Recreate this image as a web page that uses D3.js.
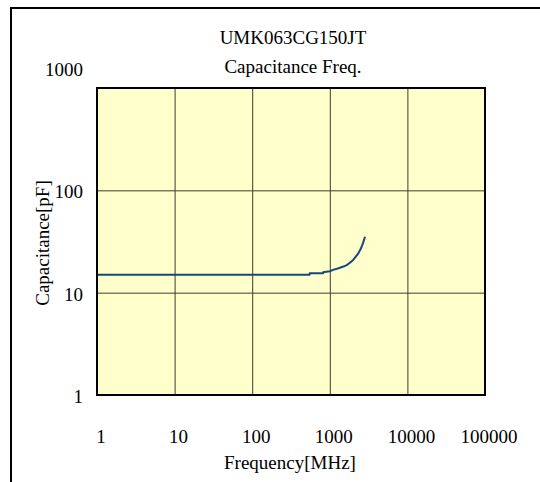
<!DOCTYPE html>
<html>
<head>
<meta charset="utf-8">
<script src="https://cdn.jsdelivr.net/npm/d3@7"></script>
<style>
  html, body { margin: 0; padding: 0; background: #fff; }
  svg { display: block; }
  text { font-family: "Liberation Serif", "Times New Roman", serif; fill: #000; }
</style>
</head>
<body>
<svg id="chart" width="540" height="482"></svg>
<script>
// ---- data ----
const titleLines = ["UMK063CG150JT", "Capacitance Freq."];
const xLabel = "Frequency[MHz]";
const yLabel = "Capacitance[pF]";
const xTicks = [1, 10, 100, 1000, 10000, 100000];
const yTicks = [1, 10, 100, 1000];
const freqMHz = [1, 2, 5, 10, 20, 50, 100, 200, 400, 550, 551, 820, 821, 1000, 1100, 1200, 1350, 1500, 1650, 1800, 2000, 2150, 2330, 2450, 2575, 2700, 2840];
const capPF   = [15, 15, 15, 15, 15, 15, 15, 15, 15, 15, 15.5, 15.5, 15.8, 16.2, 16.7, 17.0, 17.5, 18.0, 18.6, 19.5, 20.9, 22.4, 24.2, 26.0, 28.1, 31.0, 35.2];

// ---- layout ----
const svg = d3.select("#chart");
const plot = { left: 97, top: 88, right: 485, bottom: 395 };

const x = d3.scaleLog().domain([1, 100000]).range([plot.left, plot.right]);
const y = d3.scaleLog().domain([1, 1000]).range([plot.bottom, plot.top]);

// outer frame (clipped at right/bottom as in the reference)
svg.append("rect")
  .attr("x", 11).attr("y", 8).attr("width", 700).attr("height", 700)
  .attr("fill", "none").attr("stroke", "#000").attr("stroke-width", 2);

// plot background
svg.append("rect")
  .attr("x", plot.left).attr("y", plot.top)
  .attr("width", plot.right - plot.left).attr("height", plot.bottom - plot.top)
  .attr("fill", "#ffffcc");

// gridlines
const gx = svg.append("g")
  .attr("transform", `translate(0,${plot.bottom})`)
  .call(d3.axisBottom(x).tickValues(xTicks).tickSize(-(plot.bottom - plot.top)).tickFormat(""));
gx.select(".domain").remove();
gx.selectAll("line").attr("stroke", "#3d3d2a").attr("stroke-width", 1);

const gy = svg.append("g")
  .attr("transform", `translate(${plot.left},0)`)
  .call(d3.axisLeft(y).tickValues(yTicks).tickSize(-(plot.right - plot.left)).tickFormat(""));
gy.select(".domain").remove();
gy.selectAll("line").attr("stroke", "#3d3d2a").attr("stroke-width", 1);

// curve
const line = d3.line().x((d, i) => x(freqMHz[i])).y((d, i) => y(capPF[i]));
svg.append("path")
  .datum(capPF)
  .attr("d", line)
  .attr("fill", "none")
  .attr("stroke", "#17467a")
  .attr("stroke-width", 2)
  .attr("stroke-linejoin", "round");

// plot border
svg.append("rect")
  .attr("x", plot.left).attr("y", plot.top)
  .attr("width", plot.right - plot.left).attr("height", plot.bottom - plot.top)
  .attr("fill", "none").attr("stroke", "#000").attr("stroke-width", 2);

// tick labels
const fs = 19;
svg.append("g").selectAll("text")
  .data(xTicks).join("text")
  .attr("x", d => x(d) + 4)
  .attr("y", 443)
  .attr("text-anchor", "middle")
  .attr("font-size", fs)
  .text(d => d3.format("d")(d));

svg.append("g").selectAll("text")
  .data(yTicks).join("text")
  .attr("x", 83)
  .attr("y", d => y(d) + (d === 1000 ? -12 : 8))
  .attr("text-anchor", "end")
  .attr("font-size", fs)
  .text(d => d3.format("d")(d));

// titles
svg.append("g").selectAll("text")
  .data(titleLines).join("text")
  .attr("x", 293)
  .attr("y", (d, i) => 44 + i * 29)
  .attr("text-anchor", "middle")
  .attr("font-size", fs)
  .text(d => d);

svg.append("text")
  .attr("x", 290).attr("y", 469)
  .attr("text-anchor", "middle")
  .attr("font-size", fs)
  .text(xLabel);

svg.append("text")
  .attr("transform", "translate(49,243) rotate(-90)")
  .attr("text-anchor", "middle")
  .attr("font-size", fs)
  .text(yLabel);
</script>
</body>
</html>
